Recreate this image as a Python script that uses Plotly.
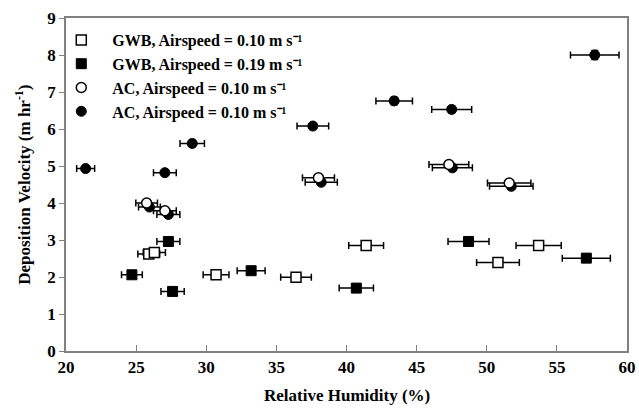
import plotly.graph_objects as go

# GWB, airspeed 0.10 (open squares)
gwb010_rh = [25.9, 26.3, 30.7, 36.4, 41.4, 50.8, 53.7]
gwb010_dv = [2.62, 2.66, 2.06, 1.99, 2.85, 2.39, 2.85]
# GWB, airspeed 0.19 (filled squares)
gwb019_rh = [27.3, 24.7, 27.6, 33.2, 40.7, 48.7, 57.1]
gwb019_dv = [2.96, 2.06, 1.61, 2.17, 1.70, 2.96, 2.51]
# AC open circles
ac_open_rh = [25.75, 27.05, 38.0, 47.3, 51.6]
ac_open_dv = [4.00, 3.79, 4.68, 5.04, 4.54]
# AC filled circles
ac_fill_rh = [21.4, 27.05, 29.0, 37.6, 43.4, 47.5, 57.7, 25.95, 27.3, 38.2, 47.55, 51.75]
ac_fill_dv = [4.93, 4.82, 5.61, 6.08, 6.76, 6.53, 8.00, 3.89, 3.69, 4.56, 4.95, 4.45]

legend_names = [
    "GWB, Airspeed = 0.10 m s\u207b\u00b9",
    "GWB, Airspeed = 0.19 m s\u207b\u00b9",
    "AC, Airspeed = 0.10 m s\u207b\u00b9",
    "AC, Airspeed = 0.10 m s\u207b\u00b9",
]
x_title = "Relative Humidity (%)"
y_title = "Deposition Velocity (m hr<sup>-1</sup>)"

FONT = "Liberation Serif"

def ebx():
    return dict(type="percent", value=3, color="black", thickness=1.5, width=3.5)

def eby():
    return dict(type="percent", value=1.5, color="black", thickness=1.5, width=3.5)

fig = go.Figure()
fig.add_trace(go.Scatter(
    x=ac_fill_rh, y=ac_fill_dv, mode="markers", name=legend_names[3], legendrank=4,
    marker=dict(symbol="circle", size=10, color="black", line=dict(color="black", width=1)),
    error_x=ebx(), error_y=eby()))
fig.add_trace(go.Scatter(
    x=ac_open_rh, y=ac_open_dv, mode="markers", name=legend_names[2], legendrank=3,
    marker=dict(symbol="circle", size=10, color="white", line=dict(color="black", width=1.5)),
    error_x=ebx(), error_y=eby()))
fig.add_trace(go.Scatter(
    x=gwb019_rh, y=gwb019_dv, mode="markers", name=legend_names[1], legendrank=2,
    marker=dict(symbol="square", size=10, color="black", line=dict(color="black", width=1)),
    error_x=ebx(), error_y=eby()))
fig.add_trace(go.Scatter(
    x=gwb010_rh, y=gwb010_dv, mode="markers", name=legend_names[0], legendrank=1,
    marker=dict(symbol="square", size=10, color="white", line=dict(color="black", width=1.5)),
    error_x=ebx(), error_y=eby()))

fig.update_layout(
    width=639, height=411,
    margin=dict(l=66, r=12, t=18, b=60, autoexpand=False),
    paper_bgcolor="white", plot_bgcolor="white",
    font=dict(family=FONT, size=16, color="black", weight="bold"),
    showlegend=True,
    legend=dict(x=-0.028, y=0.985, xanchor="left", yanchor="top",
                bgcolor="rgba(0,0,0,0)", font=dict(family=FONT, size=16, weight="bold"),
                tracegroupgap=0, itemwidth=52),
    xaxis=dict(range=[20, 60], tickvals=[20, 25, 30, 35, 40, 45, 50, 55, 60],
               showgrid=False, zeroline=False, showline=True, linecolor="#808080",
               linewidth=1.5, mirror=True, ticks="inside", ticklen=6, tickcolor="#808080",
               automargin=False,
               tickfont=dict(family=FONT, size=17, weight="bold")),
    yaxis=dict(range=[0, 9], tickvals=list(range(10)),
               showgrid=False, zeroline=False, showline=True, linecolor="#808080",
               linewidth=1.5, mirror=True, ticks="outside", ticklen=5, tickcolor="#808080",
               automargin=False,
               tickfont=dict(family=FONT, size=17, weight="bold")),
    annotations=[
        dict(text=x_title, xref="paper", yref="paper", x=0.5, y=-0.135,
             xanchor="center", yanchor="middle", showarrow=False,
             font=dict(family=FONT, size=17, weight="bold")),
        dict(text=y_title, xref="paper", yref="paper", x=-0.078, y=0.5,
             xanchor="center", yanchor="middle", textangle=-90, showarrow=False,
             font=dict(family=FONT, size=17, weight="bold")),
    ],
)

# remove the default 8px page margin so the 639x411 figure fills the window
fig.write_html("out.html", config={"displayModeBar": False},
               post_script="document.body.style.margin='0';document.body.style.overflow='hidden';")
